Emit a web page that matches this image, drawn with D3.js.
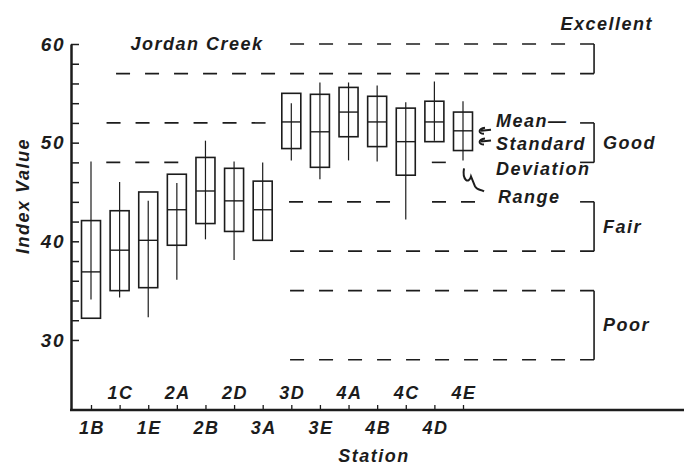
<!DOCTYPE html>
<html>
<head>
<meta charset="utf-8">
<script src="https://cdn.jsdelivr.net/npm/d3@7"></script>
<style>
  html, body { margin: 0; padding: 0; background: #fff; }
  svg text { font-family: "Liberation Sans", Arial, sans-serif; font-style: italic; font-weight: bold; fill: #1c1c1c; letter-spacing: 1.5px; }
</style>
</head>
<body>
<div id="chart"></div>
<script>
// Stations along the creek
const stations = ['1B', '1C', '1E', '2A', '2B', '2D', '3A', '3D', '3E', '4A', '4B', '4C', '4D', '4E'];
// Index value statistics per station
const means    = [36.9, 39.1, 40.1, 43.2, 45.1, 44.1, 43.2, 52.1, 51.1, 53.1, 52.1, 50.1, 52.1, 51.2];
const sdHigh   = [42.1, 43.1, 45.0, 46.8, 48.5, 47.4, 46.1, 55.0, 54.9, 55.6, 54.7, 53.5, 54.2, 53.1];
const sdLow    = [32.2, 35.0, 35.3, 39.6, 41.8, 41.0, 40.1, 49.4, 47.5, 50.6, 49.6, 46.7, 50.1, 49.2];
const rangeMax = [48.1, 46.0, 44.1, 45.9, 50.2, 48.1, 48.0, 54.0, 56.1, 56.1, 55.8, 54.1, 56.2, 54.2];
const rangeMin = [34.1, 34.3, 32.3, 36.1, 40.2, 38.1, 40.1, 48.2, 46.3, 48.2, 48.1, 42.2, 50.2, 48.2];

// Quality classes (index value limits)
const classNames = ['Excellent', 'Good', 'Fair', 'Poor'];
const classLow   = [57, 48, 39, 28];
const classHigh  = [60, 52, 44, 35];

// Dashed class limits: [value, from station index, to station index]
const limitSegments = [
    [60, 6.55, 17.58],
    [57, 0.38, 17.58],
    [52, 0.38, 6.1],
    [52, 17.0, 17.58],
    [48, 0.38, 3.05],
    [48, 11.85, 12.4],
    [48, 17.0, 17.58],
    [44, 6.67, 10.45],
    [44, 11.67, 13.42],
    [44, 17.0, 17.58],
    [39, 6.67, 17.58],
    [35, 6.67, 17.58],
    [28, 6.67, 17.58]
];
const bracketAt = 17.58;

const yTicks = d3.range(30, 61, 2);
const yLabels = [30, 40, 50, 60];

const width = 684, height = 466;
const ink = '#1c1c1c';

const svg = d3.select('#chart').append('svg')
    .attr('width', width)
    .attr('height', height);

// Scales
const x = d3.scaleLinear().domain([0, 13]).range([91, 463]);
const y = d3.scaleLinear().domain([22.9, 60]).range([410, 44]);
const boxW = 19;

// Dashed class limit lines (drawn from the bracket leftwards)
svg.append('g').selectAll('line')
    .data(limitSegments)
    .join('line')
    .attr('x1', d => x(d[2]))
    .attr('x2', d => x(d[1]))
    .attr('y1', d => y(d[0]))
    .attr('y2', d => y(d[0]))
    .attr('stroke', ink)
    .attr('stroke-width', 1.6)
    .attr('stroke-dasharray', '14,15');

// Brackets
svg.append('g').selectAll('line')
    .data(classNames)
    .join('line')
    .attr('x1', x(bracketAt))
    .attr('x2', x(bracketAt))
    .attr('y1', (d, i) => y(classHigh[i]))
    .attr('y2', (d, i) => y(classLow[i]))
    .attr('stroke', ink)
    .attr('stroke-width', 1.6);

// Class labels
svg.append('g').selectAll('text')
    .data(classNames)
    .join('text')
    .attr('x', (d, i) => i === 0 ? x(bracketAt) + 59 : x(bracketAt) + 9)
    .attr('y', (d, i) => i === 0 ? 24 : y((classLow[i] + classHigh[i]) / 2))
    .attr('dy', '0.35em')
    .attr('text-anchor', (d, i) => i === 0 ? 'end' : 'start')
    .style('font-size', '18px')
    .text(d => d);

svg.append('text')
    .attr('x', 197)
    .attr('y', y(60))
    .attr('dy', '0.35em')
    .attr('text-anchor', 'middle')
    .style('font-size', '18px')
    .text('Jordan Creek');

// Boxes
const box = svg.append('g').selectAll('g')
    .data(stations)
    .join('g')
    .attr('transform', (d, i) => `translate(${x(i)},0)`);

box.append('rect')
    .attr('x', -boxW / 2)
    .attr('width', boxW)
    .attr('y', (d, i) => y(sdHigh[i]))
    .attr('height', (d, i) => y(sdLow[i]) - y(sdHigh[i]))
    .attr('fill', 'none')
    .attr('stroke', ink)
    .attr('stroke-width', 1.6);

box.append('line')
    .attr('y1', (d, i) => y(rangeMax[i]))
    .attr('y2', (d, i) => y(rangeMin[i]))
    .attr('stroke', ink)
    .attr('stroke-width', 1.2);

box.append('line')
    .attr('x1', -boxW / 2)
    .attr('x2', boxW / 2)
    .attr('y1', (d, i) => y(means[i]))
    .attr('y2', (d, i) => y(means[i]))
    .attr('stroke', ink)
    .attr('stroke-width', 1.4);

// Y axis
const yAxis = svg.append('g')
    .attr('transform', 'translate(71,0)')
    .call(d3.axisRight(y).tickValues(yTicks).tickSize(8).tickSizeOuter(0).tickFormat(''));
yAxis.select('.domain').attr('stroke', ink).attr('stroke-width', 2.5);
yAxis.selectAll('.tick line').attr('stroke', ink).attr('stroke-width', 1.5);

svg.append('g').selectAll('text')
    .data(yLabels)
    .join('text')
    .attr('x', 65)
    .attr('y', d => y(d))
    .attr('dy', '0.35em')
    .attr('text-anchor', 'end')
    .style('font-size', '19px')
    .text(d => d);

svg.append('text')
    .attr('transform', `translate(29,${196}) rotate(-90)`)
    .attr('text-anchor', 'middle')
    .style('font-size', '18px')
    .text('Index Value');

// X axis
const xAxis = svg.append('g')
    .attr('transform', `translate(0,${y(22.9)})`)
    .call(d3.axisTop(x).tickValues(d3.range(stations.length)).tickSize(5).tickSizeOuter(0).tickFormat(''));
xAxis.select('.domain').remove();
xAxis.selectAll('.tick line').attr('stroke', ink).attr('stroke-width', 1.3);
xAxis.append('line')
    .attr('x1', 70)
    .attr('x2', 684)
    .attr('stroke', ink)
    .attr('stroke-width', 2.5);

svg.append('g').selectAll('text')
    .data(stations)
    .join('text')
    .attr('x', (d, i) => x(i) + 1)
    .attr('y', (d, i) => i % 2 === 0 ? y(22.9) + 24 : y(22.9) - 11)
    .attr('text-anchor', 'middle')
    .style('font-size', '18px')
    .text(d => d);

svg.append('text')
    .attr('x', 374)
    .attr('y', 462)
    .attr('text-anchor', 'middle')
    .style('font-size', '18px')
    .text('Station');

// Legend annotations next to the last station
const lx = x(13) + 33;
const notes = [['Mean—', 121], ['Standard', 144], ['Deviation', 169], ['Range', 197]];
svg.append('g').selectAll('text')
    .data(notes)
    .join('text')
    .attr('x', d => d[0] === 'Range' ? lx + 2 : lx)
    .attr('y', d => d[1])
    .attr('dy', '0.35em')
    .style('font-size', '18px')
    .text(d => d[0]);

// Small pointer squiggles
const pointer = svg.append('g').attr('fill', 'none').attr('stroke', ink).attr('stroke-width', 2);
[y(means[13]) + 1, y(sdLow[13]) - 8].forEach(py => {
    pointer.append('path')
        .attr('d', `M${x(13) + 28},${py - 2} L${x(13) + 18},${py - 1} M${x(13) + 22},${py - 4} C${x(13) + 15},${py - 3} ${x(13) + 15},${py + 2} ${x(13) + 21},${py + 2}`);
});
const r0 = y(rangeMin[13]);
pointer.append('path')
    .attr('d', `M${x(13) + 1},${r0 + 8} C${x(13) - 1},${r0 + 20} ${x(13) + 6},${r0 + 24} ${x(13) + 8},${r0 + 16} L${x(13) + 12},${r0 + 26} C${x(13) + 14},${r0 + 30} ${x(13) + 18},${r0 + 29} ${x(13) + 21},${r0 + 31}`);
</script>
</body>
</html>
